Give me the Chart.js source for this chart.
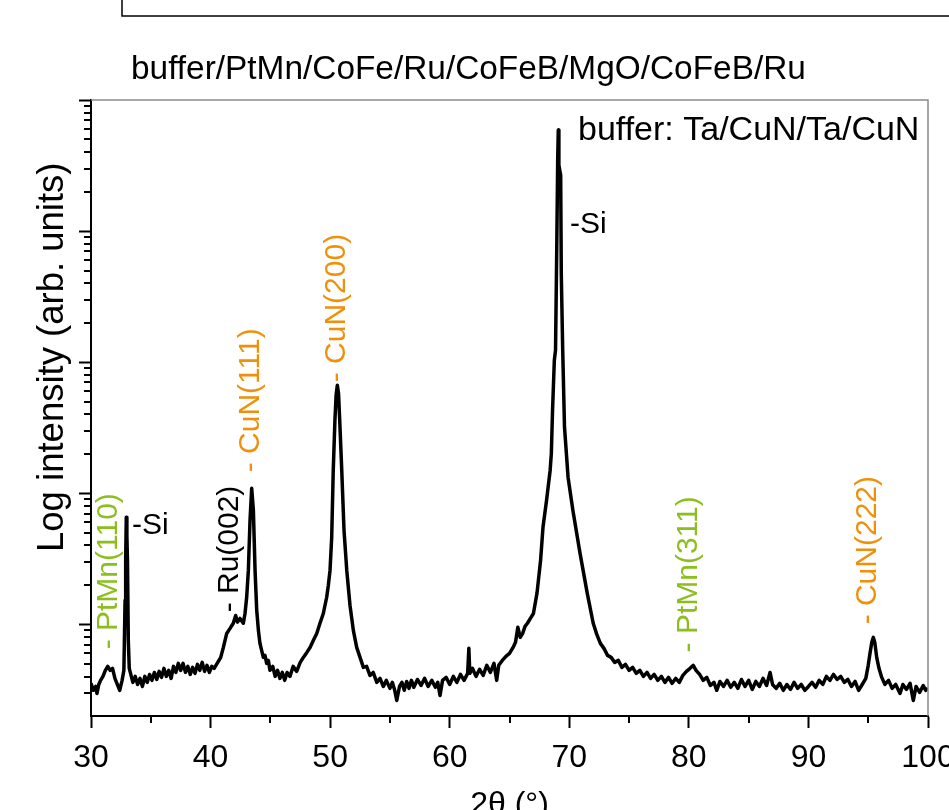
<!DOCTYPE html>
<html>
<head>
<meta charset="utf-8">
<script src="https://cdn.jsdelivr.net/npm/chart.js@4.4.0/dist/chart.umd.min.js"></script>
<style>
  html, body { margin: 0; padding: 0; overflow: hidden; background: #fff; }
  canvas { display: block; }
</style>
</head>
<body>
<canvas id="myChart" width="980" height="810"></canvas>
<script>
// setup - XRD scan, 2theta in degrees, intensity in arb. units (log axis)
const twoTheta = [
  30.0, 30.2, 30.4, 30.5, 30.65, 30.8, 31.0, 31.2, 31.4, 31.6,
  31.8, 32.0, 32.2, 32.4, 32.6, 32.75, 32.85, 32.90, 32.95, 33.00,
  33.05, 33.12, 33.2, 33.35, 33.5, 33.7, 33.9, 34.1, 34.3, 34.5,
  34.7, 34.9, 35.1, 35.3, 35.5, 35.7, 35.9, 36.1, 36.3, 36.5,
  36.7, 36.9, 37.1, 37.3, 37.5, 37.7, 37.9, 38.1, 38.3, 38.5,
  38.7, 38.9, 39.1, 39.3, 39.5, 39.7, 39.9, 40.1, 40.3, 40.5,
  40.7, 40.85, 41.07, 41.35, 41.63, 41.9, 42.1, 42.25, 42.46, 42.74,
  42.88, 43.02, 43.16, 43.3, 43.44, 43.58, 43.72, 43.86, 44.0, 44.13,
  44.27, 44.41, 44.55, 44.69, 44.83, 44.97, 45.2, 45.4, 45.6, 45.8,
  46.0, 46.2, 46.4, 46.64, 46.9, 47.2, 47.5, 47.76, 48.05, 48.32,
  48.6, 48.88, 49.15, 49.43, 49.71, 49.85, 49.99, 50.13, 50.26, 50.40,
  50.50, 50.60, 50.70, 50.80, 50.97, 51.16, 51.39, 51.66, 51.94, 52.22,
  52.5, 52.78, 53.05, 53.33, 53.6, 53.9, 54.17, 54.45, 54.7, 55.0,
  55.2, 55.4, 55.57, 55.8, 56.0, 56.2, 56.4, 56.6, 56.8, 57.0,
  57.3, 57.6, 57.9, 58.2, 58.5, 58.8, 59.0, 59.19, 59.4, 59.7,
  60.0, 60.3, 60.6, 60.9, 61.2, 61.5, 61.6, 61.68, 61.9, 62.2,
  62.5, 62.8, 63.1, 63.4, 63.7, 63.93, 64.1, 64.4, 64.7, 65.0,
  65.3, 65.5, 65.7, 65.9, 66.1, 66.3, 66.5, 66.8, 67.0, 67.3,
  67.6, 67.8, 68.1, 68.4, 68.5, 68.6, 68.75, 68.85, 68.95, 69.03,
  69.08, 69.13, 69.2, 69.28, 69.33, 69.45, 69.6, 69.9, 70.3, 70.9,
  71.5, 72.0, 72.3, 72.6, 72.9, 73.2, 73.5, 73.8, 74.1, 74.4,
  74.7, 75.0, 75.3, 75.6, 75.9, 76.2, 76.5, 76.8, 77.1, 77.4,
  77.7, 78.0, 78.3, 78.6, 78.9, 79.2, 79.5, 79.8, 80.1, 80.37,
  80.6, 80.9, 81.2, 81.5, 81.8, 82.1, 82.33, 82.6, 82.9, 83.2,
  83.5, 83.8, 84.1, 84.4, 84.7, 85.0, 85.3, 85.6, 85.9, 86.2,
  86.5, 86.79, 87.0, 87.3, 87.6, 87.9, 88.2, 88.5, 88.8, 89.1,
  89.4, 89.7, 90.0, 90.3, 90.6, 90.9, 91.2, 91.5, 91.8, 92.1,
  92.4, 92.7, 93.0, 93.3, 93.6, 93.9, 94.2, 94.5, 94.8, 95.0,
  95.15, 95.3, 95.43, 95.55, 95.71, 95.9, 96.13, 96.4, 96.7, 97.0,
  97.3, 97.66, 97.9, 98.2, 98.5, 98.77, 99.0, 99.3, 99.6, 99.8,
  100.0
];
const intensity = [
  3.55, 3.14, 3.36, 2.97, 3.48, 3.74, 4.01, 4.46, 4.78, 4.46,
  4.62, 3.87, 3.48, 3.14, 3.74, 4.46, 15.3, 30.8, 65.6, 47.9,
  30.8, 7.55, 4.62, 4.08, 3.61, 4.01, 3.48, 3.87, 3.36, 4.01,
  3.61, 4.15, 3.74, 4.30, 3.80, 4.38, 3.94, 4.62, 4.01, 4.46,
  3.87, 4.78, 4.30, 5.04, 4.46, 5.04, 4.30, 4.78, 4.15, 4.70,
  4.23, 4.95, 4.46, 5.13, 4.38, 4.87, 4.30, 4.78, 4.62, 4.95,
  5.31, 5.60, 6.67, 8.53, 9.32, 10.2, 11.7, 10.4, 11.1, 10.2,
  12.1, 16.1, 25.8, 62.2, 109, 74.1, 25.8, 12.8, 9.00, 7.16,
  6.33, 5.60, 5.80, 5.04, 5.31, 4.46, 4.78, 4.01, 4.46, 3.87,
  4.30, 3.74, 4.30, 4.01, 4.78, 4.38, 5.13, 5.60, 6.11, 6.67,
  7.55, 8.53, 10.2, 12.1, 16.1, 19.9, 25.8, 46.1, 150, 361,
  560, 667, 580, 361, 150, 52.2, 25.8, 14.0, 9.00, 6.67,
  5.60, 4.70, 4.78, 4.08, 4.30, 3.61, 3.87, 3.36, 3.74, 3.25,
  3.61, 3.14, 2.63, 3.36, 3.61, 3.14, 3.67, 3.25, 3.74, 3.31,
  3.80, 3.42, 3.87, 3.36, 3.74, 3.31, 3.61, 2.87, 3.74, 3.94,
  3.48, 4.01, 3.61, 4.15, 3.74, 4.23, 6.56, 4.23, 4.62, 4.01,
  4.54, 4.08, 4.87, 4.30, 5.04, 3.74, 4.87, 5.31, 5.70, 6.01,
  6.67, 7.29, 9.49, 7.96, 8.53, 9.66, 10.2, 11.3, 12.1, 17.3,
  30.8, 55.0, 88.5, 150, 202, 430, 1036, 1236, 7160, 34800,
  59000, 31900, 29250, 26750, 4780, 1236, 319, 132, 74.1, 34.8,
  17.3, 10.2, 8.39, 7.16, 6.56, 5.80, 5.60, 5.13, 5.31, 4.70,
  4.95, 4.46, 4.70, 4.23, 4.46, 4.01, 4.30, 3.87, 4.15, 3.74,
  4.01, 3.61, 3.94, 3.55, 3.87, 3.61, 4.08, 4.38, 4.62, 4.87,
  4.46, 4.15, 3.74, 3.94, 3.42, 3.61, 3.14, 3.67, 3.36, 3.74,
  3.31, 3.61, 3.25, 3.80, 3.36, 3.74, 3.19, 3.67, 3.36, 3.87,
  3.42, 4.30, 3.48, 3.25, 3.55, 3.14, 3.48, 3.19, 3.61, 3.25,
  3.48, 3.14, 3.36, 3.61, 3.31, 3.74, 3.48, 4.01, 3.74, 4.15,
  3.80, 4.01, 3.61, 3.80, 3.36, 3.67, 3.14, 3.48, 3.87, 4.87,
  6.01, 7.29, 7.96, 7.29, 5.60, 4.62, 3.94, 3.48, 3.74, 3.25,
  3.48, 2.97, 3.48, 3.19, 3.55, 2.63, 3.36, 3.03, 3.42, 3.14,
  3.25
];

// peak labels, anchored in data space (text starts at the anchor)
const peakText     = ['- PtMn(110)', '-Si', '- Ru(002)', '- CuN(111)', '- CuN(200)', '-Si', '- PtMn(311)', '- CuN(222)', 'buffer: Ta/CuN/Ta/CuN'];
const peakTheta    = [31.5, 33.43, 41.62, 43.38, 50.57, 70.06, 80.01, 94.98, 70.73];
const peakLevel    = [6.45, 57.0, 12.35, 144.6, 703, 11100, 6.11, 10.0, 58000];
const peakVertical = [true, false, true, true, true, false, true, true, false];
const peakColor    = ['#8cbf1e', '#000', '#000', '#f0900a', '#f0900a', '#000', '#8cbf1e', '#f0900a', '#000'];

const chartTitle = 'buffer/PtMn/CoFe/Ru/CoFeB/MgO/CoFeB/Ru';
const yTitle = 'Log intensity (arb. units)';
const xTitle = '2θ (°)';

const FONT = '"Liberation Sans", Arial, Helvetica, sans-serif';

const points = twoTheta.map((t, i) => ({x: t, y: intensity[i]}));

const data = {
  datasets: [{
    label: 'XRD',
    data: points,
    showLine: true,
    borderColor: '#000',
    borderWidth: 3.5,
    borderJoinStyle: 'round',
    pointRadius: 0,
    tension: 0
  }]
};

// frame, minor ticks, titles and peak labels
const decorations = {
  id: 'decorations',
  afterDraw(chart) {
    const {ctx, chartArea: {top, bottom, left, right}, scales: {x, y}} = chart;
    ctx.save();

    // edge of the panel above
    ctx.strokeStyle = '#000';
    ctx.lineWidth = 1.5;
    ctx.strokeRect(122, -20, 900, 36);

    // grey top/right frame
    ctx.strokeStyle = '#8a8a8a';
    ctx.lineWidth = 1.5;
    ctx.beginPath();
    ctx.moveTo(left, top);
    ctx.lineTo(right, top);
    ctx.lineTo(right, bottom);
    ctx.stroke();

    // minor ticks
    ctx.strokeStyle = '#000';
    ctx.lineWidth = 2;
    ctx.beginPath();
    for (let e = 0; e < 5; e++) {
      for (let m = 2; m < 10; m++) {
        const v = m * Math.pow(10, e);
        if (v <= y.min || v >= y.max) continue;
        const py = Math.round(y.getPixelForValue(v));
        ctx.moveTo(left, py);
        ctx.lineTo(left - 7, py);
      }
    }
    for (let v = 35; v < 100; v += 10) {
      const px = Math.round(x.getPixelForValue(v));
      ctx.moveTo(px, bottom);
      ctx.lineTo(px, bottom + 7);
    }
    ctx.stroke();

    // title above plot
    ctx.fillStyle = '#000';
    ctx.font = '33.4px ' + FONT;
    ctx.textAlign = 'left';
    ctx.textBaseline = 'alphabetic';
    ctx.fillText(chartTitle, 131, 79);

    // y axis title
    ctx.save();
    ctx.translate(63, 552);
    ctx.rotate(-Math.PI / 2);
    ctx.font = '36.5px ' + FONT;
    ctx.fillText(yTitle, 0, 0);
    ctx.restore();

    // peak labels
    peakText.forEach((t, i) => {
      const px = x.getPixelForValue(peakTheta[i]);
      const py = y.getPixelForValue(peakLevel[i]);
      ctx.save();
      ctx.translate(px, py);
      if (peakVertical[i]) ctx.rotate(-Math.PI / 2);
      ctx.fillStyle = peakColor[i];
      ctx.font = (i === peakText.length - 1 ? '34px ' : '30px ') + FONT;
      ctx.textAlign = 'left';
      ctx.textBaseline = 'middle';
      ctx.fillText(t, 0, 0);
      ctx.restore();
    });

    ctx.restore();
  }
};

// config
const config = {
  type: 'scatter',
  data,
  options: {
    responsive: false,
    animation: false,
    layout: { padding: { left: 0, top: 100, right: 52, bottom: 0 } },
    plugins: {
      legend: { display: false },
      tooltip: { enabled: false }
    },
    scales: {
      x: {
        type: 'linear',
        min: 30,
        max: 100,
        afterFit(scale) { scale.height = 94; },
        ticks: {
          stepSize: 10,
          color: '#000',
          padding: 11,
          maxRotation: 0,
          autoSkip: false,
          font: { family: FONT, size: 32 }
        },
        grid: {
          drawOnChartArea: false,
          drawTicks: true,
          tickLength: 12,
          tickWidth: 2,
          tickColor: '#000'
        },
        border: { color: '#000', width: 2 },
        title: {
          display: true,
          text: xTitle,
          color: '#000',
          padding: 0,
          font: { family: FONT, size: 32, lineHeight: 0.3 }
        }
      },
      y: {
        type: 'logarithmic',
        min: 2,
        max: 100000,
        afterFit(scale) { scale.width = 91; },
        afterBuildTicks(scale) {
          scale.ticks = scale.ticks.filter(t => Math.abs(Math.log10(t.value) - Math.round(Math.log10(t.value))) < 1e-9);
        },
        ticks: { display: false },
        grid: {
          drawOnChartArea: false,
          drawTicks: true,
          tickLength: 12,
          tickWidth: 2,
          tickColor: '#000'
        },
        border: { color: '#000', width: 2 }
      }
    }
  },
  plugins: [decorations]
};

// render init block
const myChart = new Chart(document.getElementById('myChart'), config);
</script>
</body>
</html>
